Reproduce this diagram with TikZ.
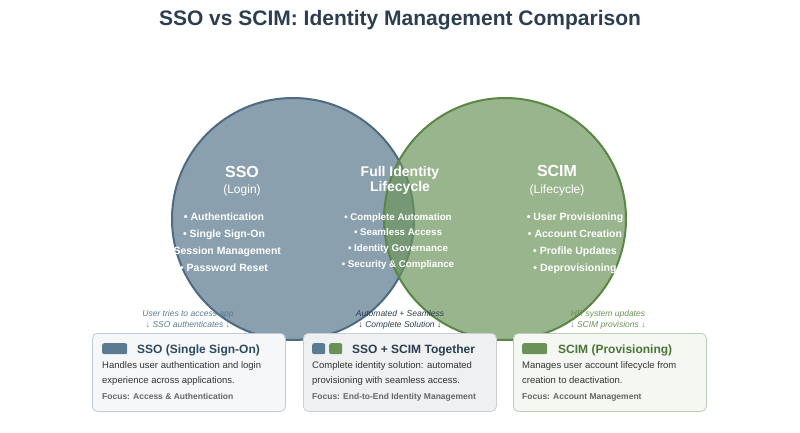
\documentclass[tikz,border=0pt]{standalone}
\usepackage{fontspec}
\setmainfont{Liberation Sans}
\usepackage{tikz}
\usetikzlibrary{positioning}
\usepackage{xcolor}

\definecolor{titlecol}{HTML}{2C3E50}
\definecolor{ssofill}{HTML}{8BA0AE}
\definecolor{ssoline}{HTML}{4D6B82}
\definecolor{scimfill}{HTML}{6E955C}
\definecolor{scimline}{HTML}{5A8746}
\definecolor{ssosw}{HTML}{5B7B91}
\definecolor{scimsw}{HTML}{6A9158}
\definecolor{ssotitle}{HTML}{2F4A5F}
\definecolor{scimtitle}{HTML}{4A7438}
\definecolor{desccol}{HTML}{333333}
\definecolor{focuscol}{HTML}{666666}

\begin{document}
\begin{tikzpicture}[x=1pt,y=-1pt,
  txt/.style={inner sep=0pt,anchor=base},
  head/.style={txt,text=white,font=\bfseries\fontsize{16}{18}\selectfont},
  sub/.style={txt,text=white,font=\fontsize{12}{14}\selectfont},
  item/.style={txt,text=white,font=\bfseries\fontsize{10.5}{12}\selectfont},
  note/.style={txt,font=\itshape\fontsize{8.5}{10}\selectfont},
  card/.style={draw,rounded corners=5pt,line width=0.8pt,anchor=north west,
    minimum width=193pt,minimum height=78pt,inner sep=0pt},
  swatch/.style={rounded corners=2pt,anchor=north west,minimum height=11pt,inner sep=0pt},
  cardtitle/.style={txt,anchor=base west,font=\bfseries\fontsize{12}{14}\selectfont},
  desc/.style={txt,anchor=base west,text=desccol,font=\fontsize{9.5}{11}\selectfont},
  focus/.style={txt,anchor=base west,text=focuscol,font=\bfseries\fontsize{8.5}{10}\selectfont}]

\useasboundingbox (0,0) rectangle (800,433);

\node[txt,text=titlecol,font=\bfseries\fontsize{21}{24}\selectfont] (title) at (400,26)
  {SSO vs SCIM: Identity Management Comparison};

% the two circles
\node[circle,minimum size=242pt,inner sep=0pt,fill=ssofill,draw=ssoline,line width=2pt] (ssoc) at (293,219) {};
\node[circle,minimum size=242pt,inner sep=0pt,fill=scimfill,fill opacity=0.7,draw=scimline,line width=2pt] (scimc) at (505,219) {};

% SSO side
\node[head] (ssohead) at (242,177) {SSO};
\node[sub] (ssosub) at (242,193) {(Login)};
\node[item] (sso1) at (224,220) {• Authentication};
\node[item] (sso2) at (224,237) {• Single Sign-On};
\node[item] (sso3) at (224,254) {• Session Management};
\node[item] (sso4) at (224,271) {• Password Reset};

% overlap
\node[head,font=\bfseries\fontsize{14}{16}\selectfont] (bothhead1) at (400,176) {Full Identity};
\node[head,font=\bfseries\fontsize{14}{16}\selectfont] (bothhead2) at (400,191) {Lifecycle};
\node[item,font=\bfseries\fontsize{9.75}{11}\selectfont] (both1) at (398,220) {• Complete Automation};
\node[item,font=\bfseries\fontsize{9.75}{11}\selectfont] (both2) at (398,235.5) {• Seamless Access};
\node[item,font=\bfseries\fontsize{9.75}{11}\selectfont] (both3) at (398,251) {• Identity Governance};
\node[item,font=\bfseries\fontsize{9.75}{11}\selectfont] (both4) at (398,267) {• Security \& Compliance};

% SCIM side
\node[head] (scimhead) at (557,176) {SCIM};
\node[sub] (scimsub) at (557,193) {(Lifecycle)};
\node[item] (scim1) at (575,220) {• User Provisioning};
\node[item] (scim2) at (575,237) {• Account Creation};
\node[item] (scim3) at (575,254) {• Profile Updates};
\node[item] (scim4) at (575,271) {• Deprovisioning};

% notes over the circle edges
\node[note,text=ssosw] (ssonote1) at (188,316) {User tries to access app};
\node[note,text=ssosw] (ssonote2) at (188,327) {↓ SSO authenticates ↓};
\node[note,text=titlecol] (bothnote1) at (400,316) {Automated + Seamless};
\node[note,text=titlecol] (bothnote2) at (400,327) {↓ Complete Solution ↓};
\node[note,text=scimsw] (scimnote1) at (608,316) {HR system updates};
\node[note,text=scimsw] (scimnote2) at (608,327) {↓ SCIM provisions ↓};

% cards
\node[card,fill=ssofill!8,draw=ssofill!55] (ssocard) at (92,333) {};
\node[swatch,fill=ssosw,minimum width=25pt] (ssosq) at (102,343) {};
\node[cardtitle,text=ssotitle] (ssoname) at (137,353) {SSO (Single Sign-On)};
\node[desc] (ssodesc1) at (102,368) {Handles user authentication and login};
\node[desc] (ssodesc2) at (102,383) {experience across applications.};
\node[focus] (ssofocus) at (102,399) {Focus: Access \& Authentication};

\node[card,fill=titlecol!8,draw=titlecol!25] (bothcard) at (303,333) {};
\node[swatch,fill=ssosw,minimum width=13pt] (bothsq1) at (312,343) {};
\node[swatch,fill=scimsw,minimum width=13pt] (bothsq2) at (329,343) {};
\node[cardtitle,text=titlecol] (bothname) at (352,353) {SSO + SCIM Together};
\node[desc] (bothdesc1) at (312,368) {Complete identity solution: automated};
\node[desc] (bothdesc2) at (312,383) {provisioning with seamless access.};
\node[focus] (bothfocus) at (312,399) {Focus: End-to-End Identity Management};

\node[card,fill=scimsw!7,draw=scimsw!45] (scimcard) at (513,333) {};
\node[swatch,fill=scimsw,minimum width=25pt] (scimsq) at (522,343) {};
\node[cardtitle,text=scimtitle] (scimname) at (558,353) {SCIM (Provisioning)};
\node[desc] (scimdesc1) at (522,368) {Manages user account lifecycle from};
\node[desc] (scimdesc2) at (522,383) {creation to deactivation.};
\node[focus] (scimfocus) at (522,399) {Focus: Account Management};

\end{tikzpicture}
\end{document}
